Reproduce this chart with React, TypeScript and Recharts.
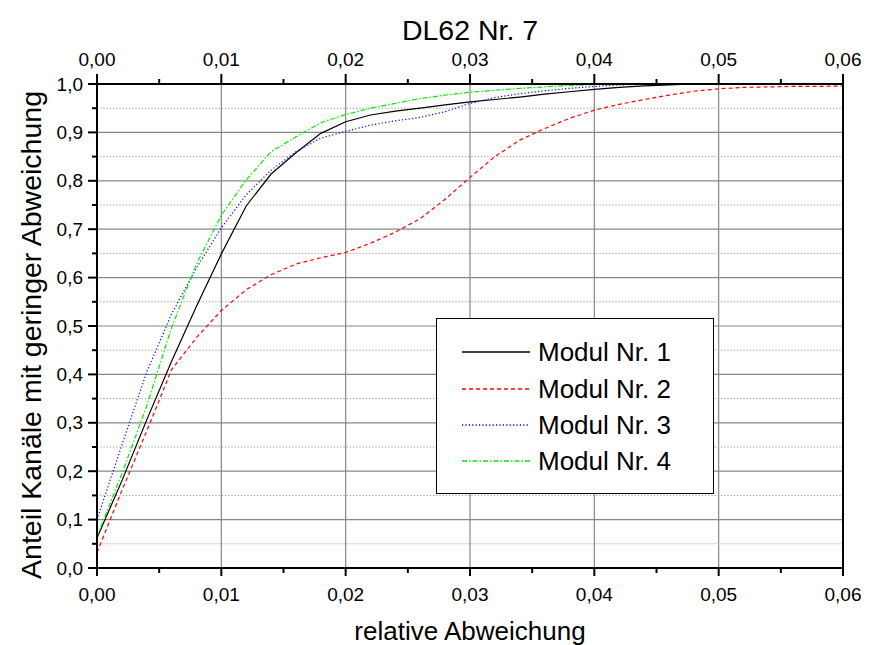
import React from "react";
import { LineChart, Line, XAxis, YAxis, CartesianGrid, Legend } from "recharts";

// relative Abweichung (x) and share of channels per module
const xValues = [
  0, 0.002, 0.004, 0.006, 0.008, 0.01, 0.012, 0.014, 0.016, 0.018, 0.02,
  0.022, 0.024, 0.026, 0.028, 0.03, 0.032, 0.034, 0.036, 0.038, 0.04,
  0.042, 0.044, 0.046, 0.048, 0.05, 0.052, 0.054, 0.056, 0.058, 0.06,
];
const modul1 = [
  0.062, 0.18, 0.306, 0.427, 0.541, 0.649, 0.748, 0.814, 0.858, 0.898, 0.922,
  0.936, 0.944, 0.95, 0.957, 0.963, 0.968, 0.973, 0.979, 0.984, 0.989,
  0.993, 0.996, 0.998, 1.0, 1.0, 1.0, 1.0, 1.0, 1.0, 1.0,
];
const modul2 = [
  0.032, 0.16, 0.283, 0.41, 0.476, 0.532, 0.575, 0.606, 0.628, 0.641, 0.652,
  0.671, 0.694, 0.722, 0.762, 0.807, 0.85, 0.884, 0.908, 0.929, 0.946,
  0.958, 0.968, 0.977, 0.985, 0.99, 0.993, 0.994, 0.995, 0.995, 0.996,
];
const modul3 = [
  0.1, 0.254, 0.405, 0.525, 0.62, 0.703, 0.771, 0.822, 0.86, 0.888, 0.902,
  0.915, 0.924, 0.931, 0.943, 0.96, 0.972, 0.98, 0.986, 0.991, 0.995,
  0.998, 1.0, 1.0, 1.0, 1.0, 1.0, 1.0, 1.0, 1.0, 1.0,
];
const modul4 = [
  0.065, 0.195, 0.335, 0.497, 0.628, 0.729, 0.802, 0.86, 0.891, 0.92, 0.937,
  0.95, 0.96, 0.97, 0.977, 0.983, 0.987, 0.991, 0.994, 0.997, 0.999,
  1.0, 1.0, 1.0, 1.0, 1.0, 1.0, 1.0, 1.0, 1.0, 1.0,
];

const xTicks = [0, 0.005, 0.01, 0.015, 0.02, 0.025, 0.03, 0.035, 0.04, 0.045, 0.05, 0.055, 0.06];
const xMajor = [0, 0.01, 0.02, 0.03, 0.04, 0.05, 0.06];
const yTicks = [0, 0.05, 0.1, 0.15, 0.2, 0.25, 0.3, 0.35, 0.4, 0.45, 0.5, 0.55, 0.6, 0.65, 0.7, 0.75, 0.8, 0.85, 0.9, 0.95, 1.0];
const yMajor = [0, 0.1, 0.2, 0.3, 0.4, 0.5, 0.6, 0.7, 0.8, 0.9, 1.0];
const yMinor = [0.05, 0.15, 0.25, 0.35, 0.45, 0.55, 0.65, 0.75, 0.85, 0.95];

const series = [
  { key: "m1", name: "Modul Nr. 1", color: "#000000", dash: undefined as string | undefined },
  { key: "m2", name: "Modul Nr. 2", color: "#ff0000", dash: "4 3" },
  { key: "m3", name: "Modul Nr. 3", color: "#0000ff", dash: "1.2 2.2" },
  { key: "m4", name: "Modul Nr. 4", color: "#00ee00", dash: "5 2 1.5 2" },
];

const data = xValues.map((x, i) => ({
  x,
  m1: modul1[i],
  m2: modul2[i],
  m3: modul3[i],
  m4: modul4[i],
}));

const FONT = "'Liberation Sans', Arial, sans-serif";
const TICK_FS = 19;

const isMajorX = (v: number) => Math.round(v * 1000) % 10 === 0;
const isMajorY = (v: number) => Math.round(v * 100) % 10 === 0;
const fmtX = (v: number) => v.toFixed(2).replace(".", ",");
const fmtY = (v: number) => v.toFixed(1).replace(".", ",");

const XTick = (props: any) => {
  const { x, y, payload, side } = props;
  const major = isMajorX(payload.value);
  const dir = side === "top" ? -1 : 1;
  const len = major ? (side === "top" ? 10 : 8) : 5;
  return (
    <g>
      <line x1={x} x2={x} y1={y} y2={y + dir * len} stroke="#000" strokeWidth={2} />
      {major && (
        <text
          x={x}
          y={side === "top" ? y - 18 : y + 33}
          textAnchor="middle"
          fontSize={TICK_FS}
          fontFamily={FONT}
          fill="#000"
        >
          {fmtX(payload.value)}
        </text>
      )}
    </g>
  );
};

const YTick = (props: any) => {
  const { x, y, payload, side } = props;
  const major = isMajorY(payload.value);
  const dir = side === "right" ? 1 : -1;
  const len = side === "right" ? (major ? 4 : 2.5) : major ? 9 : 5;
  return (
    <g>
      <line x1={x} x2={x + dir * len} y1={y} y2={y} stroke="#000" strokeWidth={2} />
      {major && (
        <text
          x={side === "right" ? x + 11 : x - 14}
          y={y + 6.5}
          textAnchor={side === "right" ? "start" : "end"}
          fontSize={TICK_FS}
          fontFamily={FONT}
          fill="#000"
        >
          {fmtY(payload.value)}
        </text>
      )}
    </g>
  );
};

// y axis title, placed from the axis viewBox
const YTitle = (props: any) => {
  const vb = props.viewBox || { x: 0, y: 84, width: 97, height: 484 };
  const cx = vb.x + 41;
  const cy = vb.y + vb.height / 2 + 9;
  return (
    <text
      x={cx}
      y={cy}
      transform={`rotate(-90 ${cx} ${cy})`}
      textAnchor="middle"
      fontSize={28.5}
      fontFamily={FONT}
      fill="#000"
    >
      Anteil Kanäle mit geringer Abweichung
    </text>
  );
};

const LegendBox = () => (
  <div
    style={{
      width: 278,
      height: 176,
      boxSizing: "border-box",
      border: "1.5px solid #000",
      background: "#fff",
      paddingTop: 15,
      fontFamily: FONT,
      fontSize: 26,
      color: "#000",
    }}
  >
    {series.map((s) => (
      <div key={s.key} style={{ display: "flex", alignItems: "center", height: 36.4 }}>
        <svg width={70} height={6} style={{ marginLeft: 24 }}>
          <line x1={1} x2={69} y1={3} y2={3} stroke={s.color} strokeWidth={1.3} strokeDasharray={s.dash} />
        </svg>
        <span style={{ marginLeft: 7, lineHeight: "30px" }}>{s.name}</span>
      </div>
    ))}
  </div>
);

export default function App() {
  return (
    <div style={{ position: "absolute", left: 0, top: 0, background: "#fff" }}>
      <LineChart width={884} height={645} data={data} margin={{ top: 50, right: 0, bottom: 37, left: 0 }}>
        <CartesianGrid
          xAxisId="bottom"
          yAxisId="left"
          horizontalValues={yMajor}
          verticalValues={xMajor}
          stroke="#888888"
          strokeWidth={1.2}
        />
        <CartesianGrid
          xAxisId="bottom"
          yAxisId="left"
          horizontalValues={yMinor}
          vertical={false}
          stroke="#969696"
          strokeDasharray="1.2 2"
        />
        <XAxis
          xAxisId="bottom"
          dataKey="x"
          type="number"
          domain={[0, 0.06]}
          ticks={xTicks}
          interval={0}
          height={40}
          tickLine={false}
          tickSize={0}
          tickMargin={0}
          axisLine={{ stroke: "#000", strokeWidth: 2 }}
          tick={<XTick side="bottom" />}
          label={{
            value: "relative Abweichung",
            position: "bottom",
            offset: 14,
            fontSize: 26,
            fontFamily: FONT,
            fill: "#000",
          }}
        />
        <XAxis
          xAxisId="top"
          orientation="top"
          dataKey="x"
          type="number"
          domain={[0, 0.06]}
          ticks={xTicks}
          interval={0}
          height={34}
          tickLine={false}
          tickSize={0}
          tickMargin={0}
          axisLine={{ stroke: "#000", strokeWidth: 2 }}
          tick={<XTick side="top" />}
          label={{
            value: "DL62 Nr. 7",
            position: "top",
            offset: 10,
            fontSize: 28.5,
            fontFamily: FONT,
            fill: "#000",
          }}
        />
        <YAxis
          yAxisId="left"
          type="number"
          domain={[0, 1]}
          ticks={yTicks}
          interval={0}
          width={97}
          tickLine={false}
          tickSize={0}
          tickMargin={0}
          axisLine={{ stroke: "#000", strokeWidth: 2 }}
          tick={<YTick side="left" />}
          label={{ content: <YTitle /> }}
        />
        <YAxis
          yAxisId="right"
          orientation="right"
          type="number"
          domain={[0, 1]}
          ticks={yTicks}
          interval={0}
          width={41}
          tickLine={false}
          tickSize={0}
          tickMargin={0}
          axisLine={{ stroke: "#000", strokeWidth: 2 }}
          tick={<YTick side="right" />}
        />
        <Legend
          layout="vertical"
          align="center"
          verticalAlign="middle"
          content={<LegendBox />}
          wrapperStyle={{ left: 436, top: 318, width: 278, height: 176 }}
        />
        {series.map((s) => (
          <Line
            key={s.key}
            xAxisId="bottom"
            yAxisId="left"
            type="linear"
            dataKey={s.key}
            name={s.name}
            stroke={s.color}
            strokeWidth={1.2}
            strokeDasharray={s.dash}
            dot={false}
            activeDot={false}
            isAnimationActive={false}
          />
        ))}
      </LineChart>
    </div>
  );
}
